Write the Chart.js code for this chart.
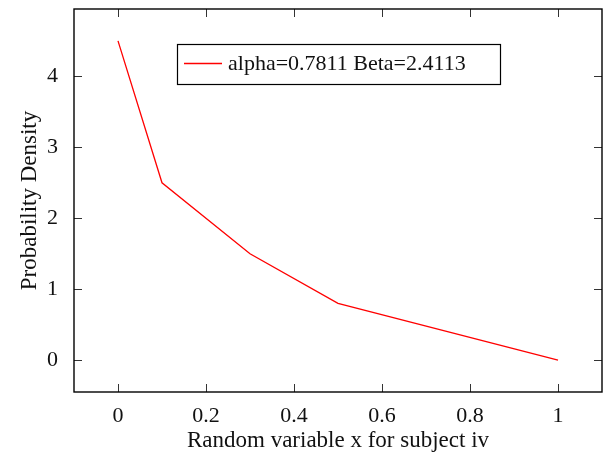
<!DOCTYPE html>
<html lang="en">
<head>
    <meta charset="UTF-8">
    <title>Probability Density</title>
    <script src="https://cdn.jsdelivr.net/npm/chart.js"></script>
    <style>
        html, body { margin: 0; padding: 0; background: #fff; }
        canvas { display: block; }
    </style>
</head>
<body>
    <canvas id="densityChart" width="608" height="457"></canvas>

    <script>
        // data
        const xValues = [0, 0.1, 0.3, 0.5, 1];
        const yValues = [4.5, 2.5, 1.5, 0.8, 0];
        const xTicks = [0, 0.2, 0.4, 0.6, 0.8, 1];
        const yTicks = [0, 1, 2, 3, 4];
        const seriesLabel = 'alpha=0.7811 Beta=2.4113';
        const xTitle = 'Random variable x for subject iv';
        const yTitle = 'Probability Density';

        const serif = "'Liberation Serif', 'DejaVu Serif', serif";
        const textColor = '#111';

        // box frame + inward ticks on all four sides, like pgfplots
        const boxPlugin = {
            id: 'boxFrame',
            afterDatasetsDraw(chart) {
                const ctx = chart.ctx;
                const a = chart.chartArea;
                const xs = chart.scales.x, ys = chart.scales.y;
                const len = 8;
                ctx.save();
                ctx.strokeStyle = '#333';
                ctx.lineWidth = 1;
                ctx.beginPath();
                xTicks.forEach(v => {
                    const px = Math.round(xs.getPixelForValue(v)) + 0.5;
                    ctx.moveTo(px, a.bottom); ctx.lineTo(px, a.bottom - len);
                    ctx.moveTo(px, a.top); ctx.lineTo(px, a.top + len);
                });
                yTicks.forEach(v => {
                    const py = Math.round(ys.getPixelForValue(v)) + 0.5;
                    ctx.moveTo(a.left, py); ctx.lineTo(a.left + len, py);
                    ctx.moveTo(a.right, py); ctx.lineTo(a.right - len, py);
                });
                ctx.stroke();

                ctx.strokeStyle = '#000';
                ctx.lineWidth = 1.4;
                ctx.strokeRect(a.left, a.top, a.right - a.left, a.bottom - a.top);

                // legend box
                const ds = chart.data.datasets[0];
                const bx = 177.5, by = 44.5, bw = 323, bh = 40;
                ctx.fillStyle = '#fff';
                ctx.fillRect(bx, by, bw, bh);
                ctx.strokeStyle = '#000';
                ctx.lineWidth = 1.2;
                ctx.strokeRect(bx, by, bw, bh);
                ctx.strokeStyle = ds.borderColor;
                ctx.lineWidth = ds.borderWidth;
                ctx.beginPath();
                ctx.moveTo(184, 63.5); ctx.lineTo(222, 63.5);
                ctx.stroke();
                ctx.fillStyle = textColor;
                ctx.font = '22px ' + serif;
                ctx.textBaseline = 'middle';
                ctx.textAlign = 'left';
                ctx.fillText(ds.label, 228, 64);
                ctx.restore();
            }
        };

        const ctx = document.getElementById('densityChart').getContext('2d');
        const densityChart = new Chart(ctx, {
            type: 'line',
            data: {
                datasets: [{
                    label: seriesLabel,
                    data: xValues.map((x, i) => ({ x: x, y: yValues[i] })),
                    borderColor: '#ff0000',
                    borderWidth: 1.3,
                    pointRadius: 0,
                    fill: false,
                    tension: 0
                }]
            },
            options: {
                responsive: false,
                animation: false,
                devicePixelRatio: 1,
                layout: { padding: { top: 9, right: 6, left: 0, bottom: 0 } },
                plugins: {
                    legend: { display: false },
                    tooltip: { enabled: false }
                },
                scales: {
                    x: {
                        type: 'linear',
                        min: -0.1,
                        max: 1.1,
                        afterBuildTicks: s => { s.ticks = xTicks.map(v => ({ value: v })); },
                        afterFit: s => { s.height = 65; s.paddingLeft = 0; s.paddingRight = 0; },
                        grid: { display: false },
                        border: { display: false },
                        ticks: {
                            color: textColor,
                            font: { family: serif, size: 22 },
                            padding: 3,
                            maxRotation: 0,
                            callback: v => String(v)
                        },
                        title: {
                            display: true,
                            text: xTitle,
                            color: textColor,
                            font: { family: serif, size: 23 },
                            padding: { top: 0, bottom: 2 }
                        }
                    },
                    y: {
                        type: 'linear',
                        min: -0.45,
                        max: 4.95,
                        afterBuildTicks: s => { s.ticks = yTicks.map(v => ({ value: v })); },
                        afterFit: s => { s.width = 74; s.paddingTop = 0; s.paddingBottom = 0; },
                        grid: { display: false },
                        border: { display: false },
                        ticks: {
                            color: textColor,
                            font: { family: serif, size: 22 },
                            padding: 8,
                            callback: v => String(v)
                        },
                        title: {
                            display: true,
                            text: yTitle,
                            color: textColor,
                            font: { family: serif, size: 23 },
                            padding: { top: 16, bottom: 0 }
                        }
                    }
                }
            },
            plugins: [boxPlugin]
        });
    </script>
</body>
</html>
